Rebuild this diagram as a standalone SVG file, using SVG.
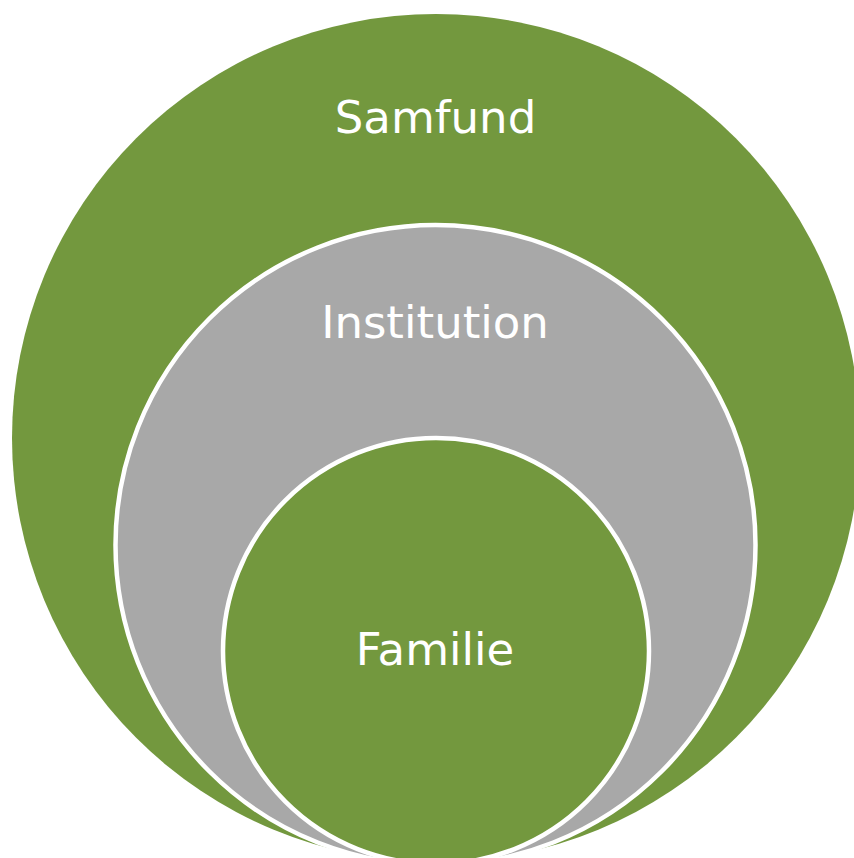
<svg xmlns="http://www.w3.org/2000/svg" width="854" height="858" viewBox="0 0 854 858">
<style>
.g{fill:#73983E}
.s{fill:#A8A8A8}
.ring{stroke:#FFFFFF;stroke-width:4.5}
.t{font-family:"DejaVu Sans","Verdana",sans-serif;font-size:45px;fill:#FFFFFF;text-anchor:middle}
</style>
<rect width="854" height="858" fill="#FFFFFF"/>
<g id="samfund">
<circle class="g" cx="436" cy="438" r="424"/>
<text class="t" x="435.5" y="133">Samfund</text>
</g>
<g id="institution">
<circle class="s ring" cx="435.5" cy="545" r="320"/>
<text class="t" x="435" y="338">Institution</text>
</g>
<g id="familie">
<circle class="g ring" cx="436" cy="651" r="213"/>
<text class="t" x="435" y="665">Familie</text>
</g>
<g id="connectors"></g>
</svg>
